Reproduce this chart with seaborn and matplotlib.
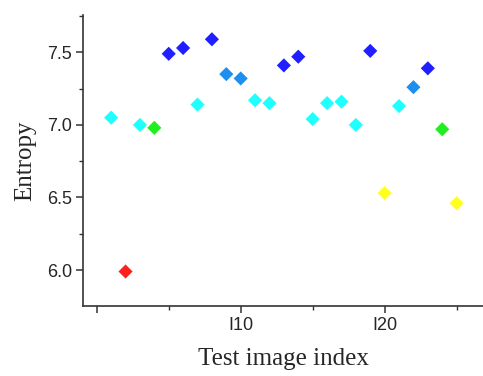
import numpy as np
import pandas as pd
import seaborn as sns
import matplotlib.pyplot as plt
from matplotlib.ticker import MultipleLocator

# data
image_index = list(range(1, 26))
entropy = [7.05, 5.99, 7.00, 6.98, 7.49, 7.53, 7.14, 7.59, 7.35, 7.32,
           7.17, 7.15, 7.41, 7.47, 7.04, 7.15, 7.16, 7.00, 7.51, 6.53,
           7.13, 7.26, 7.39, 6.97, 6.46]

# colour levels (stepped jet-like colouring)
level_edges = [0, 6.25, 6.75, 6.995, 7.2, 7.38, 10]
level_names = ["red", "yellow", "green", "cyan", "mid", "blue"]
level_colors = {"red": "#ff1f1f", "yellow": "#ffff1f", "green": "#1fef1f",
                "cyan": "#1fffff", "mid": "#1f8fef", "blue": "#1f1fff"}

df = pd.DataFrame({"idx": image_index, "entropy": entropy})
df["level"] = pd.cut(df["entropy"], bins=level_edges, labels=level_names)

sns.set_style("ticks")
fig = plt.figure(figsize=(4.83, 3.76), dpi=100)
ax = fig.add_axes([0.172, 0.186, 0.83, 0.774])

sns.scatterplot(data=df, x="idx", y="entropy", hue="level", palette=level_colors,
                marker="D", s=52, linewidth=0, legend=False, ax=ax)

ax.set_xlim(-0.95, 26.9)
ax.set_ylim(5.752, 7.757)
ax.set_xticks([0, 10, 20])
ax.set_xticklabels(["", "I10", "I20"])
ax.xaxis.set_minor_locator(MultipleLocator(5))
ax.set_yticks([6.0, 6.5, 7.0, 7.5])
ax.set_yticklabels(["6.0", "6.5", "7.0", "7.5"])
ax.yaxis.set_minor_locator(MultipleLocator(0.25))

for lab in ax.get_xticklabels() + ax.get_yticklabels():
    lab.set_family("Liberation Sans")
    lab.set_fontsize(13)
ax.tick_params(which="major", direction="out", length=5, width=1.1, color="#333333", pad=3)
ax.tick_params(which="minor", direction="out", length=3, width=1.0, color="#333333")

for side in ["top", "right"]:
    ax.spines[side].set_visible(False)
for side in ["left", "bottom"]:
    ax.spines[side].set_linewidth(1.2)
    ax.spines[side].set_color("#333333")

ax.set_xlabel("Test image index", family="Liberation Serif", fontsize=18, labelpad=10)
ax.set_ylabel("Entropy", family="Liberation Serif", fontsize=18, labelpad=8)

fig.savefig("out.png", dpi=100)
